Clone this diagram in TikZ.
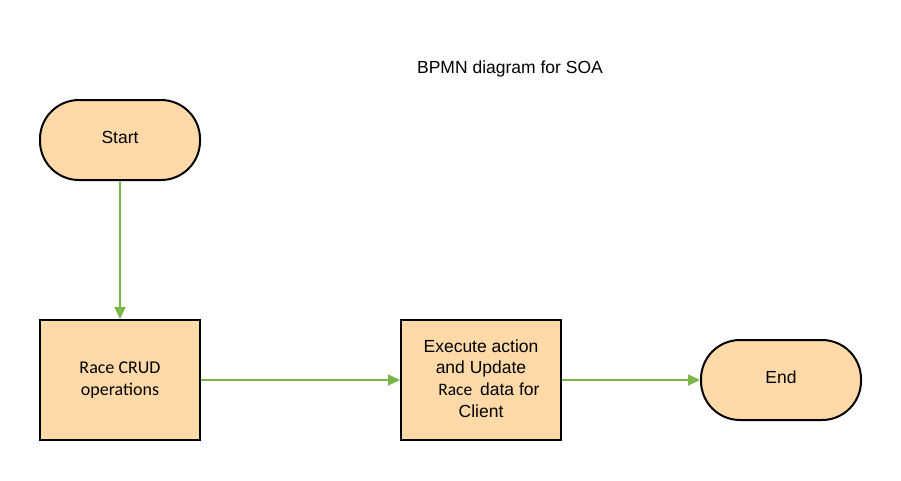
\documentclass[tikz,border=0pt]{standalone}
\usepackage{fontspec}
\setmainfont{Liberation Sans}
\newfontfamily\carlito{Carlito}
\usetikzlibrary{arrows.meta}
\definecolor{peach}{HTML}{FFDAA8}
\definecolor{flowgreen}{HTML}{7AB648}
\begin{document}
\begin{tikzpicture}[x=1pt,y=-1pt,
  terminal/.style={draw=black,line width=2pt,fill=peach,rounded corners=39pt,
    minimum width=160pt,minimum height=80pt,inner sep=0pt,text depth=5pt,
    font=\fontsize{17.5}{21.7}\selectfont},
  taskbox/.style={draw=black,line width=2pt,fill=peach,
    minimum width=160pt,minimum height=120pt,inner sep=0pt,align=center,
    font=\fontsize{17.5}{21.7}\selectfont},
  flow/.style={draw=flowgreen,line width=1.8pt,-{Triangle[length=12pt,width=11pt]}}]
\useasboundingbox (0,0) rectangle (901,480);
\node[font=\fontsize{17.5}{21}\selectfont] (title) at (510,69) {BPMN diagram for SOA};
\node[terminal] (start) at (120,140) {Start};
\node[taskbox,font=\carlito\fontsize{18}{22}\selectfont] (crud) at (120,380) {Race CRUD\\operations};
\node[taskbox,text depth=3pt] (exec) at (481,380) {Execute action\\and Update\\\hspace*{0.9em}{\carlito\fontsize{17.5}{21.7}\selectfont Race}\hspace{0.45em}data for\\Client};
\node[terminal] (end) at (781,380) {End};
\draw[flow] (start) -- (crud);
\draw[flow] (crud) -- (exec);
\draw[flow] (exec) -- (end);
\end{tikzpicture}
\end{document}
